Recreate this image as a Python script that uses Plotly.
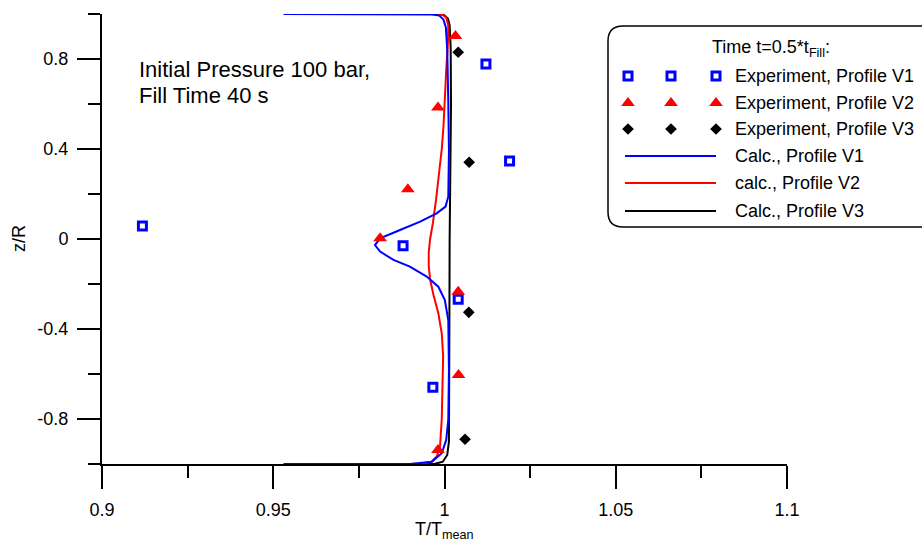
import plotly.graph_objects as go

# ---------------- data ----------------
exp_v1_x = [0.9118, 0.9879, 1.0040, 0.9966, 1.0121, 1.0190]
exp_v1_y = [0.058, -0.030, -0.268, -0.659, 0.778, 0.347]

exp_v2_x = [1.0032, 0.9981, 0.9893, 0.9812, 1.0040, 1.0041, 0.9981]
exp_v2_y = [0.902, 0.585, 0.221, 0.003, -0.234, -0.604, -0.938]

exp_v3_x = [1.0040, 1.0072, 1.0071, 1.0060]
exp_v3_y = [0.830, 0.341, -0.326, -0.890]

calc_v1_x = [0.953, 0.990, 0.9963, 0.9985, 0.9997, 1.0004, 1.0008, 1.0011, 1.0013, 1.0011,
             1.0003, 0.9977, 0.9929, 0.9870, 0.9812, 0.9797, 0.9812, 0.9851, 0.9899, 0.9948,
             0.9982, 1.0001, 1.0011, 1.0013, 1.0011, 1.0005, 0.9992, 0.9963, 0.9900, 0.953]
calc_v1_y = [1.0, 1.0, 0.998, 0.993, 0.975, 0.940, 0.840, 0.618, 0.396, 0.188,
             0.144, 0.114, 0.077, 0.040, 0.003, -0.027, -0.056, -0.093, -0.123, -0.167,
             -0.212, -0.271, -0.360, -0.582, -0.804, -0.893, -0.952, -0.990, -1.0, -1.0]

calc_v2_x = [0.9695, 0.9975, 0.9993, 1.0005, 1.0011, 1.0010, 1.0005, 1.0001, 0.9997, 0.9992,
             0.9984, 0.9975, 0.9966, 0.9958, 0.9954, 0.9954, 0.9958, 0.9968, 0.9982, 0.9992,
             0.9996, 0.9995, 0.9992, 0.9987, 0.9978, 0.9962, 0.9935, 0.9900, 0.968]
calc_v2_y = [1.003, 1.003, 0.998, 0.985, 0.950, 0.870, 0.750, 0.620, 0.500, 0.400,
             0.280, 0.170, 0.070, 0.000, -0.060, -0.120, -0.180, -0.250, -0.330, -0.420,
             -0.520, -0.650, -0.800, -0.920, -0.965, -0.990, -0.998, -1.0, -1.0]

calc_v3_x = [0.965, 0.998, 0.9998, 1.0010, 1.0015, 1.0018, 1.0019, 1.0017, 1.0015, 1.0014,
             1.0013, 1.0008, 0.9995, 0.9970, 0.965]
calc_v3_y = [1.0, 1.0, 0.996, 0.980, 0.950, 0.850, 0.600, 0.300, 0.000, -0.500,
             -0.900, -0.960, -0.990, -1.0, -1.0]

x_ticks = [0.9, 0.95, 1.0, 1.05, 1.1]
x_tick_text = ["0.9", "0.95", "1", "1.05", "1.1"]
y_ticks = [-0.8, -0.4, 0.0, 0.4, 0.8]
y_tick_text = ["-0.8", "-0.4", "0", "0.4", "0.8"]

x_title = "T/T<sub>mean</sub>"
y_title = "z/R"
legend_title = "Time t=0.5*t<sub>Fill</sub>:"
legend_labels = ["Experiment, Profile V1", "Experiment, Profile V2", "Experiment, Profile V3",
                 "Calc., Profile V1", "calc., Profile V2", "Calc., Profile V3"]
note_lines = ["Initial Pressure 100 bar,", "Fill Time 40 s"]

# ---------------- layout geometry ----------------
W, H = 922, 543
L, R, T, B = 102, 135, 14, 79
PW, PH = W - L - R, H - T - B


def ppx(x):
    return (x - L) / PW


def ppy(y):
    return (H - B - y) / PH


FONT = "Liberation Sans, Arial, sans-serif"
BLUE, RED, BLACK = "#0000ff", "#ff0000", "#000000"

sq = dict(symbol="square-open", size=8, color=BLUE, line=dict(color=BLUE, width=3))
tri = dict(symbol="triangle-up", size=12, color=RED, line=dict(width=0))
dia = dict(symbol="diamond", size=9, color=BLACK, line=dict(width=0))

fig = go.Figure()
fig.add_trace(go.Scatter(x=calc_v3_x, y=calc_v3_y, mode="lines", line=dict(color=BLACK, width=2), showlegend=False))
fig.add_trace(go.Scatter(x=calc_v2_x, y=calc_v2_y, mode="lines", line=dict(color=RED, width=2), showlegend=False))
fig.add_trace(go.Scatter(x=calc_v1_x, y=calc_v1_y, mode="lines", line=dict(color=BLUE, width=2), showlegend=False))
fig.add_trace(go.Scatter(x=exp_v1_x, y=exp_v1_y, mode="markers", marker=sq, showlegend=False))
fig.add_trace(go.Scatter(x=exp_v2_x, y=exp_v2_y, mode="markers", marker=tri, showlegend=False))
fig.add_trace(go.Scatter(x=exp_v3_x, y=exp_v3_y, mode="markers", marker=dia, showlegend=False))

# ---------------- custom legend (pixel coordinate overlay axes) ----------------
cols = [628, 671, 716]
rows = [76, 103, 129, 156, 183, 211]
for mk, ry in zip([sq, tri, dia], rows[:3]):
    fig.add_trace(go.Scatter(x=cols, y=[ry] * 3, mode="markers", marker=mk, xaxis="x2", yaxis="y2",
                             showlegend=False, cliponaxis=False, hoverinfo="skip"))
for col, ry in zip([BLUE, RED, BLACK], rows[3:]):
    fig.add_trace(go.Scatter(x=[625, 716], y=[ry, ry], mode="lines", line=dict(color=col, width=2),
                             xaxis="x2", yaxis="y2", showlegend=False, cliponaxis=False, hoverinfo="skip"))

bx0, bx1, by0, by1, rr = 608, 940, 26, 227, 15
path = (f"M {ppx(bx0 + rr)},{ppy(by0)} L {ppx(bx1 - rr)},{ppy(by0)} "
        f"Q {ppx(bx1)},{ppy(by0)} {ppx(bx1)},{ppy(by0 + rr)} L {ppx(bx1)},{ppy(by1 - rr)} "
        f"Q {ppx(bx1)},{ppy(by1)} {ppx(bx1 - rr)},{ppy(by1)} L {ppx(bx0 + rr)},{ppy(by1)} "
        f"Q {ppx(bx0)},{ppy(by1)} {ppx(bx0)},{ppy(by1 - rr)} L {ppx(bx0)},{ppy(by0 + rr)} "
        f"Q {ppx(bx0)},{ppy(by0)} {ppx(bx0 + rr)},{ppy(by0)} Z")
fig.add_shape(type="path", path=path, xref="paper", yref="paper",
              line=dict(color=BLACK, width=1.5), fillcolor="white", layer="below")

annotations = [dict(x=ppx(710), y=ppy(48), text=legend_title)]
for lab, ry in zip(legend_labels, rows):
    annotations.append(dict(x=ppx(733), y=ppy(ry), text=lab))
annots = []
for a in annotations:
    annots.append(dict(xref="paper", yref="paper", xanchor="left", yanchor="middle", showarrow=False,
                       font=dict(size=18, color=BLACK, family=FONT), **a))
for line, yy in zip(note_lines, [69, 95]):
    annots.append(dict(xref="paper", yref="paper", x=ppx(137), y=ppy(yy), text=line, xanchor="left",
                       yanchor="middle", showarrow=False, font=dict(size=22, color=BLACK, family=FONT)))
# axis titles
annots.append(dict(xref="paper", yref="paper", x=0.5, y=ppy(530), text=x_title, xanchor="center",
                   yanchor="middle", showarrow=False, font=dict(size=18, color=BLACK, family=FONT)))
annots.append(dict(xref="paper", yref="paper", x=ppx(19), y=0.5, text=y_title, xanchor="center",
                   yanchor="middle", textangle=-90, showarrow=False, font=dict(size=18, color=BLACK, family=FONT)))

axis_common = dict(showgrid=False, zeroline=False, showline=True, linecolor=BLACK, linewidth=2,
                   ticks="outside", ticklen=23, tickwidth=2, tickcolor=BLACK, automargin=False,
                   tickfont=dict(size=18, color=BLACK, family=FONT), mirror=False, ticklabelstandoff=5)

fig.update_layout(
    width=W, height=H, margin=dict(l=L, r=R, t=T, b=B, pad=0, autoexpand=False),
    paper_bgcolor="white", plot_bgcolor="white",
    font=dict(family=FONT, color=BLACK),
    xaxis=dict(range=[0.9, 1.1], tickvals=x_ticks, ticktext=x_tick_text,
               minor=dict(dtick=0.025, tick0=0.9, ticks="outside", ticklen=12, tickwidth=2, tickcolor=BLACK),
               **axis_common),
    yaxis=dict(range=[-1, 1], tickvals=y_ticks, ticktext=y_tick_text,
               minor=dict(dtick=0.2, tick0=0, ticks="outside", ticklen=12, tickwidth=2, tickcolor=BLACK),
               **axis_common),
    xaxis2=dict(range=[L, L + PW], overlaying="x", visible=False, anchor="y2"),
    yaxis2=dict(range=[H - B, T], overlaying="y", visible=False, anchor="x2"),
    annotations=annots,
)

fig.write_html("out.html")
